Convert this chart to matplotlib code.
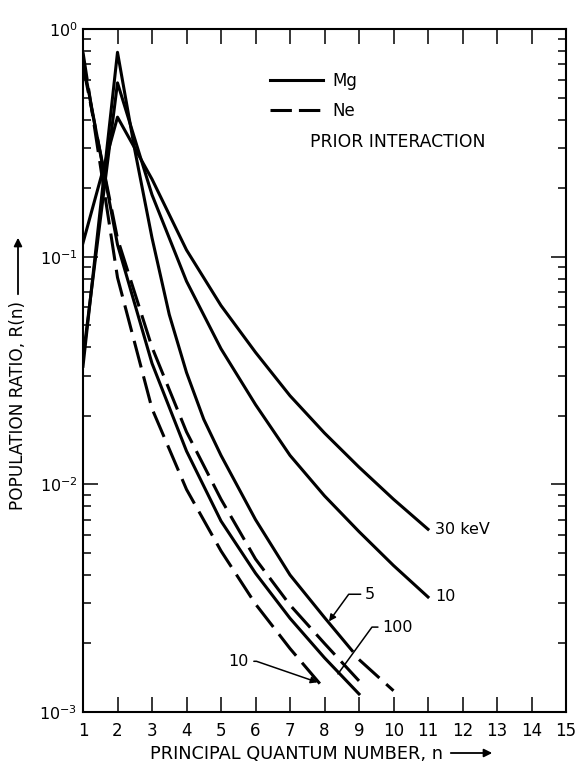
import matplotlib.pyplot as plt
from matplotlib.lines import Line2D
from matplotlib.patches import FancyArrowPatch

# Mg curves (solid), values at principal quantum number n
n_mg = [1, 2, 3, 4, 5, 6, 7, 8, 9, 10, 11]
mg_30 = [0.115, 0.41, 0.219, 0.107, 0.061, 0.038, 0.0245, 0.0168, 0.0119, 0.0086, 0.00635]
mg_10 = [0.036, 0.58, 0.187, 0.078, 0.0394, 0.0224, 0.0134, 0.0089, 0.0062, 0.0044, 0.0032]
n_mg5 = [1, 2, 2.5, 3, 3.5, 4, 4.5, 5, 6, 7, 8, 8.8]
mg_5 = [0.033, 0.79, 0.295, 0.121, 0.0557, 0.031, 0.0193, 0.0134, 0.0070, 0.0040, 0.0026, 0.00186]
n_mg5_ext = [9, 10]
mg_5_ext = [0.0017, 0.00124]
n_mg100 = [1, 2, 3, 4, 5, 6, 7, 8, 9]
mg_100 = [0.72, 0.113, 0.034, 0.014, 0.0069, 0.00407, 0.00258, 0.00173, 0.0012]

# Ne curves (dashed)
n_ne10 = [1, 2, 3, 4, 5, 6, 7, 8]
ne_10 = [0.79, 0.081, 0.0215, 0.0095, 0.0051, 0.00298, 0.0019, 0.00126]
n_ne100 = [1, 2, 3, 4, 5, 6, 7, 8, 9]
ne_100 = [0.69, 0.12, 0.04, 0.017, 0.0086, 0.0047, 0.00295, 0.0020, 0.00137]

x_ticks = list(range(1, 16))

plt.rcParams['font.family'] = 'DejaVu Sans'
plt.rcParams['mathtext.default'] = 'regular'

fig = plt.figure(figsize=(5.76, 7.66), dpi=100)
ax = fig.add_axes([83 / 576, 1 - 712 / 766, 483 / 576, 683 / 766])

lw = 2.2
dash = (0, (9, 3))
ax.plot(n_mg, mg_30, color='black', lw=lw)
ax.plot(n_mg, mg_10, color='black', lw=lw)
ax.plot(n_mg5, mg_5, color='black', lw=lw)
ax.plot(n_mg5_ext, mg_5_ext, color='black', lw=lw, linestyle=dash)
ax.plot(n_mg100, mg_100, color='black', lw=lw)
ax.plot(n_ne10, ne_10, color='black', lw=lw, linestyle=dash)
ax.plot(n_ne100, ne_100, color='black', lw=lw, linestyle=dash)

ax.set_yscale('log')
ax.set_xlim(1, 15)
ax.set_ylim(1e-3, 1)
ax.set_xticks(x_ticks)
ax.tick_params(axis='both', which='both', direction='in', top=True, right=True, width=1.1)
ax.tick_params(axis='x', which='major', length=11, labelsize=12, pad=7)
ax.tick_params(axis='y', which='major', length=11, labelsize=11.5, pad=4)
ax.tick_params(axis='y', which='minor', length=5.5)
for s in ax.spines.values():
    s.set_linewidth(1.5)

# legend
handles = [Line2D([], [], color='black', lw=lw),
           Line2D([], [], color='black', lw=lw, linestyle=(0, (7, 2.3)))]
ax.legend(handles, ['Mg', 'Ne'], loc='upper left', bbox_to_anchor=(0.387, 0.937),
          frameon=False, fontsize=12, handlelength=3.17, handletextpad=0.6,
          labelspacing=0.7, borderpad=0, borderaxespad=0)
ax.text(0.469, 0.8346, 'PRIOR INTERACTION', transform=ax.transAxes, fontsize=12.4,
        va='center', ha='left')

# curve labels
ax.text(11.2, mg_30[-1], '30 keV', fontsize=11.5, va='center', ha='left')
ax.text(11.2, mg_10[-1], '10', fontsize=11.5, va='center', ha='left')
ax.annotate('5', xy=(8.13, 2.5e-3), xytext=(9.17, 3.29e-3), fontsize=11.5, va='center',
            ha='left', arrowprops=dict(arrowstyle='-|>', color='black', lw=1.1,
                                       connectionstyle='angle,angleA=0,angleB=54',
                                       shrinkA=1, shrinkB=0, mutation_scale=10))
ax.annotate('100', xy=(8.39, 1.47e-3), xytext=(9.67, 2.36e-3), fontsize=11.5, va='center',
            ha='left', arrowprops=dict(arrowstyle='-', color='black', lw=1.1,
                                       connectionstyle='angle,angleA=0,angleB=54',
                                       shrinkA=1, shrinkB=0))
ax.annotate('10', xy=(7.8, 1.35e-3), xytext=(5.2, 1.67e-3), fontsize=11.5, va='center',
            ha='left', arrowprops=dict(arrowstyle='-|>', color='black', lw=1.1,
                                       connectionstyle='angle,angleA=0,angleB=-19',
                                       shrinkA=2, shrinkB=0, mutation_scale=10))

# axis titles with arrows
fig.text(150 / 576, 1 - 754 / 766, 'PRINCIPAL QUANTUM NUMBER, n', fontsize=12.8,
         ha='left', va='center')
fig.patches.append(FancyArrowPatch(
    (448 / 576, 1 - 753 / 766), (495 / 576, 1 - 753 / 766), transform=fig.transFigure,
    arrowstyle='-|>', mutation_scale=12, color='black', lw=1.3))
fig.text(18 / 576, 1 - 405 / 766, 'POPULATION RATIO, R(n)', fontsize=12.2, rotation=90,
         ha='center', va='center')
fig.patches.append(FancyArrowPatch(
    (18 / 576, 1 - 297 / 766), (18 / 576, 1 - 235 / 766), transform=fig.transFigure,
    arrowstyle='-|>', mutation_scale=12, color='black', lw=1.3))

fig.savefig('out.png', dpi=100)
